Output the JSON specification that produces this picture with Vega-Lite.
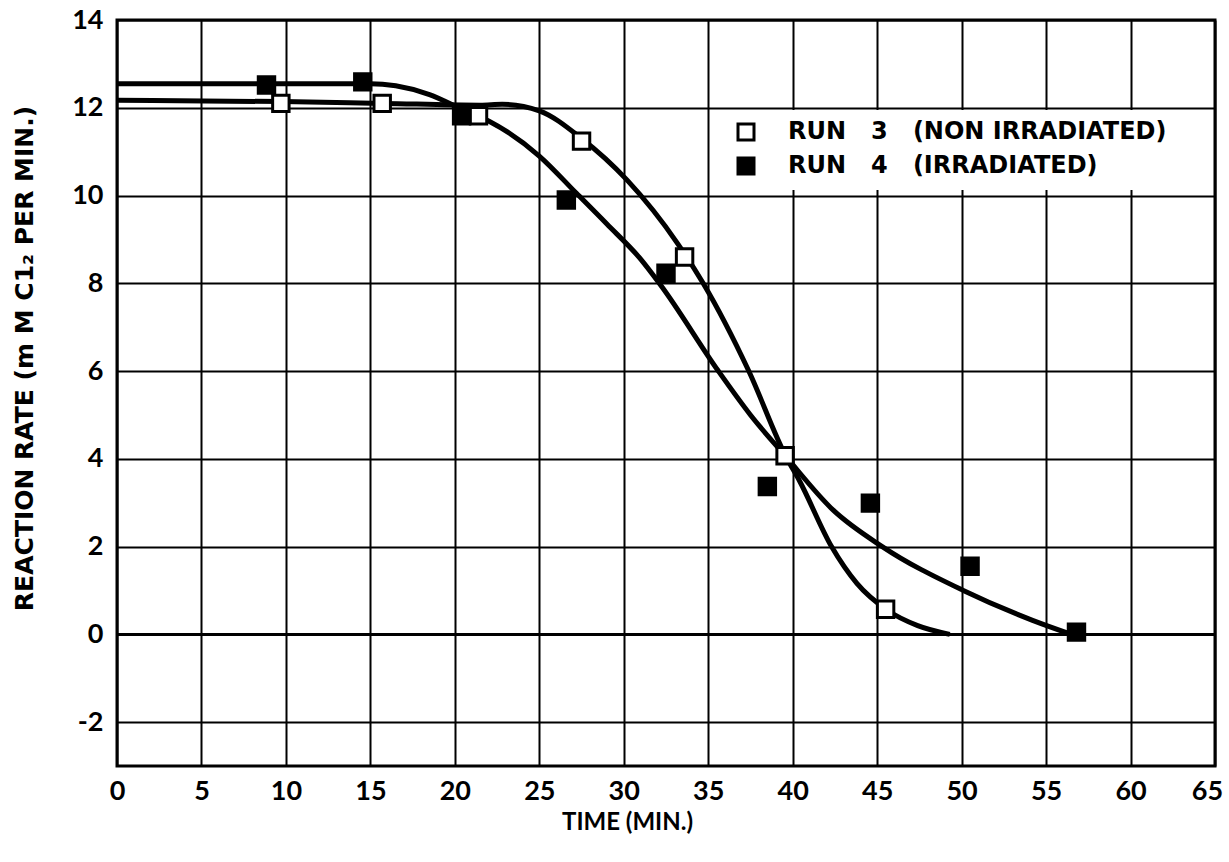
{
  "$schema": "https://vega.github.io/schema/vega-lite/v6.json",
  "width": 1098,
  "height": 746,
  "autosize": "none",
  "padding": {"left": 117, "top": 20, "right": 14, "bottom": 96},
  "background": "white",
  "config": {
    "view": {"stroke": "black", "strokeWidth": 3},
    "font": "Lato",
    "axis": {
      "grid": true,
      "gridColor": "black",
      "gridOpacity": 1,
      "domain": false,
      "ticks": false,
      "labelFont": "Lato",
      "labelFontWeight": "bold",
      "labelFontSize": 27,
      "labelColor": "black",
      "titleFont": "Lato",
      "titleFontWeight": "bold",
      "titleFontSize": 24,
      "titleColor": "black"
    }
  },
  "datasets": {
    "points": [
      {"run": "RUN\u00a0\u00a0\u00a03\u00a0\u00a0\u00a0(NON IRRADIATED)", "time": 9.7, "rate": 12.1},
      {"run": "RUN\u00a0\u00a0\u00a03\u00a0\u00a0\u00a0(NON IRRADIATED)", "time": 15.7, "rate": 12.1},
      {"run": "RUN\u00a0\u00a0\u00a03\u00a0\u00a0\u00a0(NON IRRADIATED)", "time": 21.4, "rate": 11.82},
      {"run": "RUN\u00a0\u00a0\u00a03\u00a0\u00a0\u00a0(NON IRRADIATED)", "time": 27.5, "rate": 11.24},
      {"run": "RUN\u00a0\u00a0\u00a03\u00a0\u00a0\u00a0(NON IRRADIATED)", "time": 33.6, "rate": 8.6},
      {"run": "RUN\u00a0\u00a0\u00a03\u00a0\u00a0\u00a0(NON IRRADIATED)", "time": 39.55, "rate": 4.07},
      {"run": "RUN\u00a0\u00a0\u00a03\u00a0\u00a0\u00a0(NON IRRADIATED)", "time": 45.5, "rate": 0.57},
      {"run": "RUN\u00a0\u00a0\u00a04\u00a0\u00a0\u00a0(IRRADIATED)", "time": 8.85, "rate": 12.52},
      {"run": "RUN\u00a0\u00a0\u00a04\u00a0\u00a0\u00a0(IRRADIATED)", "time": 14.55, "rate": 12.59},
      {"run": "RUN\u00a0\u00a0\u00a04\u00a0\u00a0\u00a0(IRRADIATED)", "time": 20.4, "rate": 11.82},
      {"run": "RUN\u00a0\u00a0\u00a04\u00a0\u00a0\u00a0(IRRADIATED)", "time": 26.6, "rate": 9.9},
      {"run": "RUN\u00a0\u00a0\u00a04\u00a0\u00a0\u00a0(IRRADIATED)", "time": 32.5, "rate": 8.23},
      {"run": "RUN\u00a0\u00a0\u00a04\u00a0\u00a0\u00a0(IRRADIATED)", "time": 38.5, "rate": 3.37},
      {"run": "RUN\u00a0\u00a0\u00a04\u00a0\u00a0\u00a0(IRRADIATED)", "time": 44.6, "rate": 2.99},
      {"run": "RUN\u00a0\u00a0\u00a04\u00a0\u00a0\u00a0(IRRADIATED)", "time": 50.5, "rate": 1.55},
      {"run": "RUN\u00a0\u00a0\u00a04\u00a0\u00a0\u00a0(IRRADIATED)", "time": 56.8, "rate": 0.05}
    ],
    "curves": [
      {"curve": "run3", "time": 0, "rate": 12.17},
      {"curve": "run3", "time": 9.8, "rate": 12.14},
      {"curve": "run3", "time": 15.8, "rate": 12.1},
      {"curve": "run3", "time": 21.5, "rate": 12.06},
      {"curve": "run3", "time": 22.8, "rate": 12.08},
      {"curve": "run3", "time": 25, "rate": 11.93},
      {"curve": "run3", "time": 27.5, "rate": 11.3},
      {"curve": "run3", "time": 30.2, "rate": 10.35},
      {"curve": "run3", "time": 33.2, "rate": 8.9},
      {"curve": "run3", "time": 34.7, "rate": 8.0},
      {"curve": "run3", "time": 37.4, "rate": 6.0},
      {"curve": "run3", "time": 39.6, "rate": 4.05},
      {"curve": "run3", "time": 40.4, "rate": 3.5},
      {"curve": "run3", "time": 42.3, "rate": 2.0},
      {"curve": "run3", "time": 43.8, "rate": 1.16},
      {"curve": "run3", "time": 45.6, "rate": 0.55},
      {"curve": "run3", "time": 47.4, "rate": 0.2},
      {"curve": "run3", "time": 49.3, "rate": 0.0},
      {"curve": "run4", "time": 0, "rate": 12.55},
      {"curve": "run4", "time": 15, "rate": 12.55},
      {"curve": "run4", "time": 16.5, "rate": 12.5},
      {"curve": "run4", "time": 18.5, "rate": 12.3},
      {"curve": "run4", "time": 20.5, "rate": 11.95},
      {"curve": "run4", "time": 22, "rate": 11.7},
      {"curve": "run4", "time": 25, "rate": 10.9},
      {"curve": "run4", "time": 27.2, "rate": 10.05},
      {"curve": "run4", "time": 29, "rate": 9.35},
      {"curve": "run4", "time": 31, "rate": 8.55},
      {"curve": "run4", "time": 32.2, "rate": 7.95},
      {"curve": "run4", "time": 35.6, "rate": 6.0},
      {"curve": "run4", "time": 37.5, "rate": 5.0},
      {"curve": "run4", "time": 39.6, "rate": 4.05},
      {"curve": "run4", "time": 42.4, "rate": 2.83},
      {"curve": "run4", "time": 45.3, "rate": 2.0},
      {"curve": "run4", "time": 50.1, "rate": 1.0},
      {"curve": "run4", "time": 54.2, "rate": 0.32},
      {"curve": "run4", "time": 56.5, "rate": 0.0}
    ]
  },
  "encoding": {
    "x": {
      "field": "time", "type": "quantitative",
      "scale": {"domain": [0, 65], "nice": false, "zero": false},
      "axis": {
        "values": [0, 5, 10, 15, 20, 25, 30, 35, 40, 45, 50, 55, 60, 65],
        "title": "TIME (MIN.)",
        "labelPadding": 12,
        "labelOffset": {"condition": {"test": "datum.value == 65", "value": -8}, "value": 0},
        "gridWidth": 2,
        "titleX": 510, "titleY": 56, "titleBaseline": "middle", "titleAlign": "center",
        "labelFlush": false
      }
    },
    "y": {
      "field": "rate", "type": "quantitative",
      "scale": {"domain": [-3, 14], "nice": false, "zero": false},
      "axis": {
        "values": [-2, 0, 2, 4, 6, 8, 10, 12, 14],
        "labelExpr": "'' + datum.value",
        "title": "REACTION RATE (m M C1\u2082 PER MIN.)",
        "titleFont": "DejaVu Sans",
        "titleFontSize": 25,
        "labelPadding": 14,
        "gridWidth": {"condition": {"test": "datum.value == 0", "value": 3}, "value": 2},
        "titleX": -93, "titleY": 338, "titleAngle": 270, "titleBaseline": "middle", "titleAlign": "center",
        "labelFlush": false
      }
    }
  },
  "layer": [
    {
      "data": {"name": "curves"},
      "mark": {"type": "line", "color": "black", "strokeWidth": 5, "interpolate": "monotone", "clip": true},
      "encoding": {"detail": {"field": "curve"}}
    },
    {
      "data": {"name": "points"},
      "mark": {"type": "point", "shape": "square", "filled": true, "stroke": "black", "strokeWidth": 3, "size": 270, "opacity": 1, "strokeOpacity": 1},
      "encoding": {
        "fill": {
          "field": "run", "type": "nominal",
          "scale": {"domain": ["RUN\u00a0\u00a0\u00a03\u00a0\u00a0\u00a0(NON IRRADIATED)", "RUN\u00a0\u00a0\u00a04\u00a0\u00a0\u00a0(IRRADIATED)"], "range": ["white", "black"]},
          "legend": {
            "title": null,
            "orient": "none",
            "legendX": 607,
            "legendY": 90,
            "fillColor": "white",
            "padding": 10,
            "symbolType": "square",
            "symbolSize": 256,
            "symbolStrokeColor": "black",
            "symbolStrokeWidth": 3,
            "symbolOpacity": 1,
            "labelFont": "DejaVu Sans",
            "labelFontWeight": "bold",
            "labelFontSize": 24,
            "labelColor": "black",
            "labelOffset": 30,
            "labelLimit": 700,
            "rowPadding": 6
          }
        }
      }
    }
  ]
}
